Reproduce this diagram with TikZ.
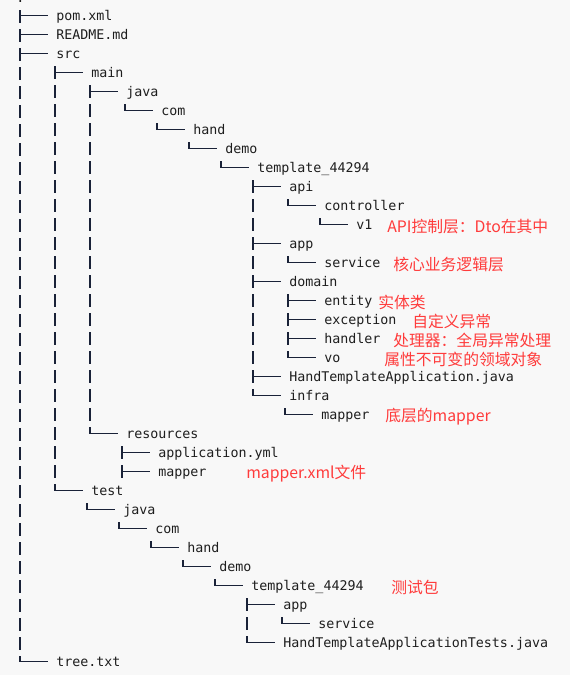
\documentclass[tikz,border=0pt]{standalone}
\usepackage{fontspec}
\setmonofont{DejaVu Sans Mono}
\newfontfamily\cjk{Noto Sans CJK SC}
\usetikzlibrary{calc}
\definecolor{bgcol}{HTML}{F8F8F8}
\definecolor{inkcol}{HTML}{1E1E1E}
\definecolor{linecol}{HTML}{1A2238}
\definecolor{notecol}{HTML}{FF3B3B}

\begin{document}
\begin{tikzpicture}[x=0.75pt, y=-0.75pt,
  entry/.style={anchor=west, inner sep=0pt, text height=8.25pt, text depth=1.5pt,
    font=\ttfamily\fontsize{10}{12}\selectfont, text=inkcol},
  note/.style={anchor=west, inner sep=0pt, font=\cjk\fontsize{11.85}{14}\selectfont, text=notecol},
  stem/.style={draw=linecol, line width=0.8pt, dash pattern=on 9.75pt off 4.5pt},
  arm/.style={draw=linecol, line width=0.8pt, shorten >=6pt}]
\path[use as bounding box, fill=bgcol] (0,0) rectangle (570,675);

% project tree
\node[entry] (root) at (16,-2.5) {.};
\node[entry] (pom) at (56,15.5) {pom.xml};
\node[entry] (readme) at (56,34.5) {README.md};
\node[entry] (src) at (56,53.5) {src};
\node[entry] (main) at (91,72.5) {main};
\node[entry] (mjava) at (126,91.5) {java};
\node[entry] (mcom) at (161,110.5) {com};
\node[entry] (mhand) at (193,129.5) {hand};
\node[entry] (mdemo) at (225,148.5) {demo};
\node[entry] (mtpl) at (257,167.5) {template\_44294};
\node[entry] (api) at (289,186.5) {api};
\node[entry] (controller) at (324,205.5) {controller};
\node[entry] (v1) at (356,224.5) {v1};
\node[entry] (mapp) at (289,243.5) {app};
\node[entry] (mservice) at (324,262.5) {service};
\node[entry] (domain) at (289,281.5) {domain};
\node[entry] (entity) at (324,300.5) {entity};
\node[entry] (exception) at (324,319.5) {exception};
\node[entry] (handler) at (324,338.5) {handler};
\node[entry] (vo) at (324,357.5) {vo};
\node[entry] (happ) at (289,376.5) {HandTemplateApplication.java};
\node[entry] (infra) at (289,395.5) {infra};
\node[entry] (imapper) at (321,414.5) {mapper};
\node[entry] (resources) at (126,433.5) {resources};
\node[entry] (appyml) at (158,452.5) {application.yml};
\node[entry] (rmapper) at (158,471.5) {mapper};
\node[entry] (test) at (91,490.5) {test};
\node[entry] (tjava) at (123,509.5) {java};
\node[entry] (tcom) at (155,528.5) {com};
\node[entry] (thand) at (187,547.5) {hand};
\node[entry] (tdemo) at (219,566.5) {demo};
\node[entry] (ttpl) at (251,585.5) {template\_44294};
\node[entry] (tapp) at (283,604.5) {app};
\node[entry] (tservice) at (318,623.5) {service};
\node[entry] (htests) at (283,642.5) {HandTemplateApplicationTests.java};
\node[entry] (tree) at (56,661.5) {tree.txt};

% branches
\foreach \p/\c in {root/pom, root/readme, root/src, root/tree,
    src/main, src/test, main/mjava, main/resources,
    mjava/mcom, mcom/mhand, mhand/mdemo, mdemo/mtpl,
    mtpl/api, mtpl/mapp, mtpl/domain, mtpl/happ, mtpl/infra,
    api/controller, controller/v1, mapp/mservice,
    domain/entity, domain/exception, domain/handler, domain/vo,
    infra/imapper, resources/appyml, resources/rmapper,
    test/tjava, tjava/tcom, tcom/thand, thand/tdemo, tdemo/ttpl,
    ttpl/tapp, ttpl/htests, tapp/tservice} {
  \draw[stem] ($(\p.west -| \c.west)+(-36,12.5)$) -- ($(\c.west)+(-36,0)$);
  \draw[arm] ($(\c.west)+(-36,0)$) -- (\c.west);
}
\draw[stem] ($(rmapper.west)+(-36,0)$) -- ++(0,6.5);

% notes
\node[note] (nv1) at (387,226.5) {API控制层：Dto在其中};
\node[note] (nservice) at (393,264.5) {核心业务逻辑层};
\node[note] (nentity) at (378,302.5) {实体类};
\node[note] (nexception) at (412,321.5) {自定义异常};
\node[note] (nhandler) at (393,340.5) {处理器：全局异常处理};
\node[note] (nvo) at (384,359.5) {属性不可变的领域对象};
\node[note] (nmapper) at (385,416.5) {底层的mapper};
\node[note] (nxml) at (246,473.5) {mapper.xml文件};
\node[note] (ntest) at (391,587.5) {测试包};
\end{tikzpicture}
\end{document}
